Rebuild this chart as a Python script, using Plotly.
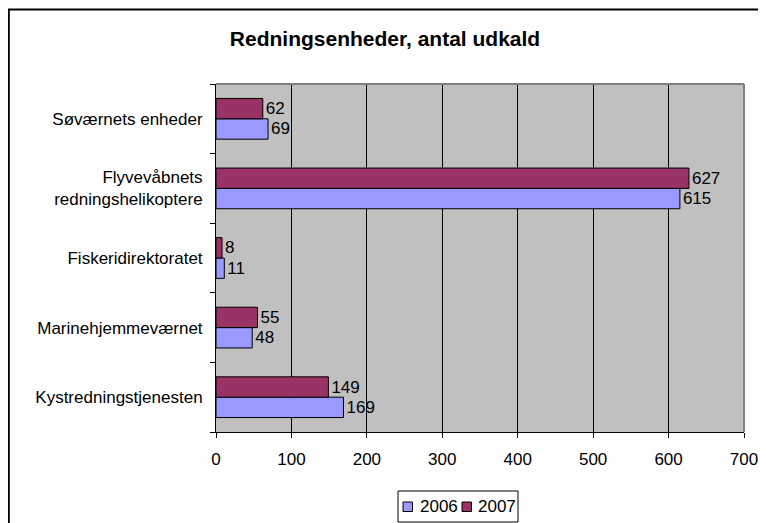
import plotly.graph_objects as go

categories = ["Kystredningstjenesten", "Marinehjemmeværnet", "Fiskeridirektoratet",
              "Flyvevåbnets<br>redningshelikoptere", "Søværnets enheder"]
values_2006 = [169, 48, 11, 615, 69]
values_2007 = [149, 55, 8, 627, 62]
series_names = ["2006", "2007"]
series_colors = ["#9999FF", "#993366"]
x_ticks = [0, 100, 200, 300, 400, 500, 600, 700]

FONT = "Liberation Sans, Arial, sans-serif"
FS = 17

# the page adds an 8px body margin; positions below are screen positions minus it
OFF = 8
W, H = 766, 523
L = 216 - OFF
T = 84 - OFF
R = W - (744 - OFF)
B = H - (432 - OFF)
PW, PH = W - L - R, H - T - B


def px_x(x):
    return (x - OFF - L) / PW


def px_y(y):
    return (H - B - (y - OFF)) / PH


fig = go.Figure()
for name, vals, col in zip(series_names, [values_2006, values_2007], series_colors):
    fig.add_trace(go.Bar(
        y=categories, x=vals, name=name, orientation="h",
        marker=dict(color=col, line=dict(color="#000000", width=1)),
        text=[str(v) for v in vals], textposition="outside",
        textfont=dict(color="#000000", size=FS, family=FONT), cliponaxis=False,
    ))

fig.update_layout(
    width=W, height=H,
    barmode="group", bargap=0.415, bargroupgap=0,
    paper_bgcolor="#FFFFFF", plot_bgcolor="#C0C0C0",
    margin=dict(l=L, r=R, t=T, b=B, autoexpand=False),
    font=dict(family=FONT, size=FS, color="#000000"),
    title=dict(text="<b>Redningsenheder, antal udkald</b>", x=(385 - OFF) / W, xref="container",
               xanchor="center", y=1 - (39 - OFF) / H, yref="container", yanchor="middle",
               font=dict(family=FONT, size=21, color="#000000")),
    showlegend=False,
)
fig.update_xaxes(
    range=[0, 700], tickvals=x_ticks, ticktext=[str(t) for t in x_ticks],
    showgrid=True, gridcolor="#000000", gridwidth=1,
    showline=True, linecolor="#000000", linewidth=1,
    ticks="outside", ticklen=5, tickcolor="#000000",
    zeroline=False, tickfont=dict(size=FS, family=FONT), automargin=False,
    ticklabelstandoff=7,
)
fig.update_yaxes(
    showline=True, linecolor="#000000", linewidth=1,
    ticks="outside", ticklen=5, tickcolor="#000000", tickson="boundaries",
    showgrid=False, tickfont=dict(size=FS, family=FONT), ticklabelstandoff=9,
    automargin=False,
)
# plot area border (gray)
fig.add_shape(type="line", xref="paper", yref="paper", x0=0, x1=1, y0=1, y1=1,
              line=dict(color="#808080", width=2))
fig.add_shape(type="line", xref="paper", yref="paper", x0=1, x1=1, y0=0, y1=1,
              line=dict(color="#808080", width=2))
# outer chart border
fig.add_shape(type="rect", xref="paper", yref="paper",
              x0=px_x(OFF + 0.8), x1=px_x(W + 40), y0=px_y(H + 40), y1=px_y(OFF + 1.5),
              line=dict(color="#000000", width=2))

# legend box (drawn by hand to match the compact original)
fig.add_shape(type="rect", xref="paper", yref="paper",
              x0=px_x(398), x1=px_x(518), y0=px_y(522), y1=px_y(491),
              line=dict(color="#000000", width=1), fillcolor="#FFFFFF")
sq_x = [403, 462]
txt_x = [418, 476]
for name, col, sx, tx in zip(series_names, series_colors, sq_x, txt_x):
    fig.add_shape(type="rect", xref="paper", yref="paper",
                  x0=px_x(sx), x1=px_x(sx + 9.5), y0=px_y(511.5), y1=px_y(502),
                  line=dict(color="#000000", width=1), fillcolor=col)
    fig.add_annotation(text=name, xref="paper", yref="paper", x=px_x(tx), y=px_y(506.5),
                       xanchor="left", yanchor="middle", showarrow=False,
                       font=dict(family=FONT, size=FS, color="#000000"))

fig.write_html("out.html")
